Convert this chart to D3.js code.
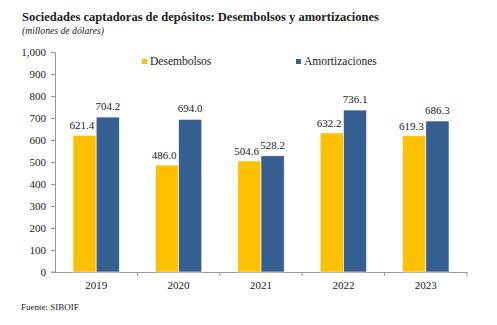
<!DOCTYPE html>
<html>
<head>
<meta charset="utf-8">
<script src="https://cdn.jsdelivr.net/npm/d3@7"></script>
<style>
  body { margin: 0; background: #fff; }
  svg text { font-family: "Liberation Serif", "DejaVu Serif", serif !important; fill: #222; }
</style>
</head>
<body>
<div id="chart"></div>
<script>
// Data
var years = ["2019", "2020", "2021", "2022", "2023"];
var desembolsos = [621.4, 486.0, 504.6, 632.2, 619.3];
var amortizaciones = [704.2, 694.0, 528.2, 736.1, 686.3];
var seriesNames = ["Desembolsos", "Amortizaciones"];
var yTicks = [0, 100, 200, 300, 400, 500, 600, 700, 800, 900, 1000];

var colors = ["#FFC000", "#355E91"];

var W = 497, H = 325;
var margin = {top: 52, right: 30, bottom: 53, left: 55};
var width = W - margin.left - margin.right;
var height = H - margin.top - margin.bottom;

var svg = d3.select("#chart").append("svg")
    .attr("width", W).attr("height", H)
    .attr("font-family", "Liberation Serif, serif");

// Title and unit
svg.append("text").attr("x", 22).attr("y", 21)
    .style("font-size", "12.5px").style("font-weight", "bold")
    .text("Sociedades captadoras de depósitos: Desembolsos y amortizaciones");
svg.append("text").attr("x", 22).attr("y", 33.5)
    .style("font-size", "9.7px").style("font-style", "italic")
    .text("(millones de dólares)");

var g = svg.append("g")
    .attr("transform", "translate(" + margin.left + "," + margin.top + ")");

var x0 = d3.scaleBand().domain(years).range([0, width]).paddingInner(0.437).paddingOuter(0.218);
var x1 = d3.scaleBand().domain(seriesNames).range([0, x0.bandwidth()]);
var y = d3.scaleLinear().domain([0, 1000]).range([height, 0]);

// Y axis
var yAxis = d3.axisLeft(y).tickValues(yTicks).tickSize(4).tickPadding(5)
    .tickFormat(d3.format(",d"));
var ya = g.append("g").call(yAxis).attr("font-family", null);
ya.select(".domain").attr("stroke", "#999").attr("d", "M-4,0.5H0.5V" + height + "H-4");
ya.selectAll(".tick line").attr("stroke", "#999");
ya.selectAll("text").style("font-size", "11px");

// X axis: ticks between categories
var xa = g.append("g").attr("transform", "translate(0," + height + ")");
xa.append("line").attr("x1", 0).attr("x2", width).attr("y1", 0.5).attr("y2", 0.5).attr("stroke", "#999");
xa.selectAll(".sep").data(years).enter().append("line")
    .attr("x1", function(d, i) { return (i + 1) * width / years.length; })
    .attr("x2", function(d, i) { return (i + 1) * width / years.length; })
    .attr("y1", 0).attr("y2", 4).attr("stroke", "#999");
xa.selectAll(".lbl").data(years).enter().append("text")
    .attr("x", function(d) { return x0(d) + x0.bandwidth() / 2; })
    .attr("y", 17).attr("text-anchor", "middle")
    .style("font-size", "11px").text(function(d) { return d; });

// Bars
var rows = years.map(function(yr, i) {
  return {year: yr, values: [
    {name: seriesNames[0], value: desembolsos[i]},
    {name: seriesNames[1], value: amortizaciones[i]}
  ]};
});

var grp = g.selectAll(".grp").data(rows).enter().append("g")
    .attr("transform", function(d) { return "translate(" + x0(d.year) + ",0)"; });

grp.selectAll("rect").data(function(d) { return d.values; }).enter().append("rect")
    .attr("x", function(d) { return x1(d.name); })
    .attr("y", function(d) { return y(d.value); })
    .attr("width", x1.bandwidth())
    .attr("height", function(d) { return height - y(d.value); })
    .attr("fill", function(d, i) { return colors[i]; })
    .attr("stroke", "#fff").attr("stroke-width", 0.6);

// Value labels: yellow ones end just before the blue bar, blue ones centred
grp.selectAll(".val").data(function(d) { return d.values; }).enter().append("text")
    .attr("x", function(d, i) { return i === 0 ? x1(d.name) + x1.bandwidth() - 2 : x1(d.name) + x1.bandwidth() / 2; })
    .attr("y", function(d, i) { return y(d.value) - (i === 0 ? 6 : 7); })
    .attr("text-anchor", function(d, i) { return i === 0 ? "end" : "middle"; })
    .style("font-size", "11px")
    .text(function(d) { return d3.format(".1f")(d.value); });

// Legend
var legend = svg.append("g");
var legX = [142, 296];
seriesNames.forEach(function(n, i) {
  legend.append("rect").attr("x", legX[i]).attr("y", 59).attr("width", 5).attr("height", 5)
      .attr("fill", colors[i]);
  legend.append("text").attr("x", legX[i] + 8).attr("y", 65)
      .style("font-size", "11.5px").text(n);
});

// Source
svg.append("text").attr("x", 21).attr("y", 310)
    .style("font-size", "9px").text("Fuente:  SIBOIF");
</script>
</body>
</html>
